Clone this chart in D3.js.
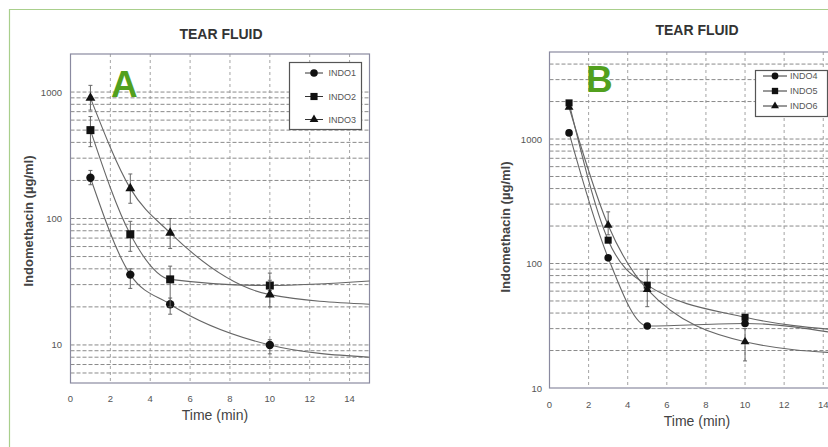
<!DOCTYPE html>
<html>
<head>
<meta charset="utf-8">
<script src="https://cdn.jsdelivr.net/npm/d3@7"></script>
<style>
  body { margin: 0; background: #fff; }
  svg { display: block; font-family: 'Liberation Sans', Arial, sans-serif; }
</style>
</head>
<body>
<div class="wrapper"></div>
<script>
// sampling times (min) and the end of the fitted curves
const time = [1, 3, 5, 10]
const fitEnd = 15
const xTicks = [0, 2, 4, 6, 8, 10, 12, 14]
const yTicks = [10, 100, 1000]

// panel A
const namesA = ['INDO1', 'INDO2', 'INDO3']
const indo1 = [210, 36, 21, 10]
const indo1Lo = [185, 28, 17.5, 8.5]
const indo1Hi = [240, 40, 23.5, 11]
const indo2 = [500, 75, 33, 29.5]
const indo2Lo = [370, 55, 20, 27]
const indo2Hi = [640, 95, 42, 32.5]
const indo3 = [900, 173, 77, 25]
const indo3Lo = [720, 132, 58, 20]
const indo3Hi = [1130, 225, 100, 37]
const endA = [8, 32, 21]

// panel B
const namesB = ['INDO4', 'INDO5', 'INDO6']
const indo4 = [1120, 111, 31.5, 33]
const indo4Lo = [null, null, null, null]
const indo4Hi = [null, null, null, null]
const indo5 = [1950, 154, 67, 37]
const indo5Lo = [null, null, 45, null]
const indo5Hi = [null, null, 90, null]
const indo6 = [1800, 203, 62, 23.5]
const indo6Lo = [null, 170, null, 16.5]
const indo6Hi = [null, 260, null, 30]
const endB = [27, 29, 19]

const width = 828, height = 447

const svg = d3.select('.wrapper')
  .append('svg')
  .attr('width', width)
  .attr('height', height)

// light green frame of the figure
svg.append('path')
  .attr('d', `M9.5 ${height} V9.5 H${width}`)
  .attr('fill', 'none')
  .attr('stroke', '#a9cf8c')
  .attr('stroke-width', 1.2)

const symbols = [d3.symbolCircle, d3.symbolSquare, d3.symbolTriangle]

const panels = [
  {
    letter: 'A', names: namesA, end: endA,
    values: [indo1, indo2, indo3], lo: [indo1Lo, indo2Lo, indo3Lo], hi: [indo1Hi, indo2Hi, indo3Hi],
    xRange: [70.5, 369.5], yRange: [383, 54], yDomain: [5, 2000],
    title: [221, 39], letterPos: [111, 97], yLabel: [28, 221], xLabel: [215, 420],
    xTickY: 402, yTickX: 62,
    legend: { x: 289.5, y: 62.5, w: 72, h: 67, rows: [73, 96.5, 119.5], l0: 305, l1: 323, text: 328.5 },
    sizes: [55, 64, 42]
  },
  {
    letter: 'B', names: namesB, end: endB,
    values: [indo4, indo5, indo6], lo: [indo4Lo, indo5Lo, indo6Lo], hi: [indo4Hi, indo5Hi, indo6Hi],
    xRange: [549.5, 842.8], yRange: [388, 52], yDomain: [10, 5000],
    title: [697, 35], letterPos: [586, 92], yLabel: [505, 227], xLabel: [697, 426],
    xTickY: 408, yTickX: 542,
    legend: { x: 755.5, y: 70.5, w: 72, h: 46, rows: [76, 91, 106], l0: 763, l1: 787, text: 790 },
    sizes: [45, 50, 34]
  }
]

panels.forEach(drawPanel)

function drawPanel(p) {
  const g = svg.append('g')

  const x = d3.scaleLinear().domain([0, fitEnd]).range(p.xRange)
  const y = d3.scaleLog().domain(p.yDomain).range(p.yRange)

  const [x0, x1] = p.xRange
  const [yb, yt] = p.yRange

  // horizontal log grid
  const hGrid = y.ticks().filter(v => v > p.yDomain[0] && v < p.yDomain[1])
  g.selectAll('line.hgrid')
    .data(hGrid)
    .enter().append('line')
    .attr('class', 'hgrid')
    .attr('x1', x0).attr('x2', x1)
    .attr('y1', d => y(d)).attr('y2', d => y(d))
    .attr('stroke', '#8a8a8a')
    .attr('stroke-width', 1)
    .attr('stroke-dasharray', '4,2')

  // vertical grid
  g.selectAll('line.vgrid')
    .data(xTicks.filter(v => v > 0))
    .enter().append('line')
    .attr('class', 'vgrid')
    .attr('x1', d => x(d)).attr('x2', d => x(d))
    .attr('y1', yt).attr('y2', yb)
    .attr('stroke', '#9a9a9a')
    .attr('stroke-width', 0.9)
    .attr('stroke-dasharray', '3,3')

  // plot frame
  g.append('rect')
    .attr('x', x0).attr('y', yt)
    .attr('width', x1 - x0).attr('height', yb - yt)
    .attr('fill', 'none')
    .attr('stroke', '#8a8aa0')
    .attr('stroke-width', 1.2)

  // tick labels
  g.selectAll('text.xt')
    .data(xTicks)
    .enter().append('text')
    .attr('class', 'xt')
    .attr('x', d => x(d))
    .attr('y', p.xTickY)
    .attr('text-anchor', 'middle')
    .attr('font-size', 9.5)
    .attr('fill', '#555')
    .text(d => d)

  g.selectAll('text.yt')
    .data(yTicks)
    .enter().append('text')
    .attr('class', 'yt')
    .attr('x', p.yTickX)
    .attr('y', d => y(d) + 3.5)
    .attr('text-anchor', 'end')
    .attr('font-size', 9.5)
    .attr('fill', '#555')
    .text(d => d)

  // titles
  g.append('text')
    .attr('x', p.title[0]).attr('y', p.title[1])
    .attr('text-anchor', 'middle')
    .attr('font-size', 14)
    .attr('font-weight', 'bold')
    .attr('fill', '#333')
    .text('TEAR FLUID')

  g.append('text')
    .attr('x', p.xLabel[0]).attr('y', p.xLabel[1])
    .attr('text-anchor', 'middle')
    .attr('font-size', 14)
    .attr('fill', '#444')
    .text('Time (min)')

  g.append('text')
    .attr('transform', `translate(${p.yLabel[0]}, ${p.yLabel[1]}) rotate(-90)`)
    .attr('text-anchor', 'middle')
    .attr('dy', '0.35em')
    .attr('font-size', 13)
    .attr('font-weight', 'bold')
    .attr('fill', '#444')
    .text('Indomethacin (µg/ml)')

  g.append('text')
    .attr('x', p.letterPos[0]).attr('y', p.letterPos[1])
    .attr('font-size', 37)
    .attr('font-weight', 'bold')
    .attr('fill', '#52a01e')
    .text(p.letter)

  const line = d3.line()
    .x(d => x(d[0]))
    .y(d => y(d[1]))
    .curve(d3.curveMonotoneX)

  p.values.forEach((vals, s) => {
    const pts = time.map((t, i) => [t, vals[i]]).concat([[fitEnd, p.end[s]]])

    g.append('path')
      .attr('d', line(pts))
      .attr('fill', 'none')
      .attr('stroke', '#666')
      .attr('stroke-width', 1.1)

    // error bars
    time.forEach((t, i) => {
      const lo = p.lo[s][i], hi = p.hi[s][i]
      if (lo == null) return
      const cx = x(t)
      g.append('path')
        .attr('d', `M${cx} ${y(lo)} V${y(hi)} M${cx - 2} ${y(lo)} H${cx + 2} M${cx - 2} ${y(hi)} H${cx + 2}`)
        .attr('fill', 'none')
        .attr('stroke', '#666')
        .attr('stroke-width', 1)
    })

    g.selectAll(null)
      .data(time.map((t, i) => [t, vals[i]]))
      .enter().append('path')
      .attr('transform', d => `translate(${x(d[0])}, ${y(d[1])})`)
      .attr('d', d3.symbol().type(symbols[s]).size(p.sizes[s]))
      .attr('fill', '#111')
  })

  // legend
  const lg = p.legend
  g.append('rect')
    .attr('x', lg.x).attr('y', lg.y)
    .attr('width', lg.w).attr('height', lg.h)
    .attr('fill', '#fff')
    .attr('stroke', '#555')
    .attr('stroke-width', 1.2)

  p.names.forEach((name, s) => {
    const ry = lg.rows[s]
    g.append('line')
      .attr('x1', lg.l0).attr('x2', lg.l1)
      .attr('y1', ry).attr('y2', ry)
      .attr('stroke', '#333')
      .attr('stroke-width', 1)
    g.append('path')
      .attr('transform', `translate(${(lg.l0 + lg.l1) / 2}, ${ry})`)
      .attr('d', d3.symbol().type(symbols[s]).size(p.sizes[s] * 0.8))
      .attr('fill', '#111')
    g.append('text')
      .attr('x', lg.text).attr('y', ry + 3)
      .attr('font-size', 9)
      .attr('fill', '#555')
      .text(name)
  })
}
</script>
</body>
</html>
